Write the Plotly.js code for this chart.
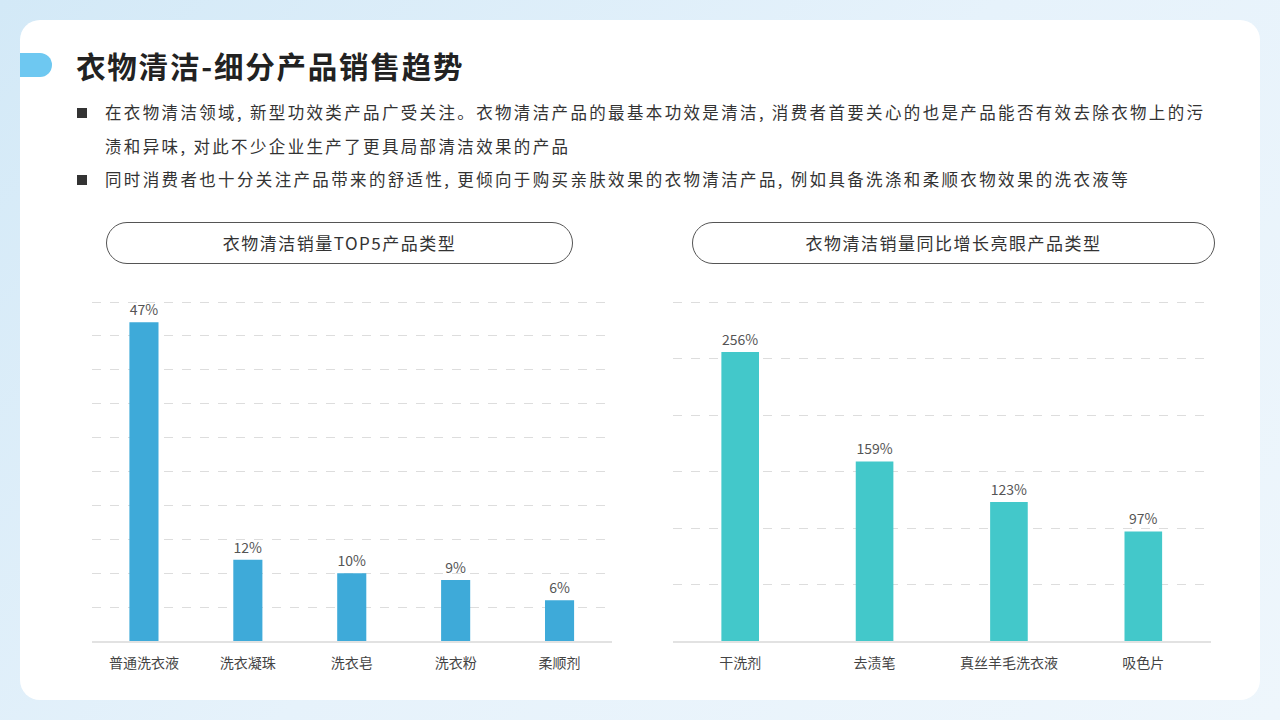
<!DOCTYPE html>
<html>
<head>
<meta charset="utf-8">
<script src="https://cdn.plot.ly/plotly-3.0.1.min.js"></script>
<style>
  html, body { margin: 0; padding: 0; }
  body {
    width: 1280px; height: 720px; overflow: hidden; position: relative;
    background: linear-gradient(135deg, #d3e9f7 0%, #e6f2fb 50%, #eef6fc 100%);
    font-family: "Noto Sans CJK SC", "Noto Sans", sans-serif;
  }
  .card {
    position: absolute; left: 20px; top: 20px; width: 1240px; height: 680px;
    background: #fff; border-radius: 20px;
  }
  .tab {
    position: absolute; left: 20px; top: 53px; width: 32px; height: 24px;
    background: #6ec8f1; border-radius: 0 12px 12px 0;
  }
  .title {
    position: absolute; left: 76px; top: 45px; font-size: 29.5px; font-weight: 700;
    color: #222; letter-spacing: 1.8px; line-height: 40px;
  }
  .bullets {
    position: absolute; left: 77px; top: 96px; font-size: 16.5px; color: #333;
    letter-spacing: 2.35px; white-space: nowrap;
  }
  .bullet { position: relative; padding-left: 28px; line-height: 33.5px; }
  .bullet::before {
    content: ""; position: absolute; left: 0; top: 12px; width: 10px; height: 10px; background: #333;
  }
  .pill {
    position: absolute; top: 222px; height: 40px; border: 1.5px solid #555; border-radius: 22px;
    font-size: 17px; color: #333; text-align: center; line-height: 40px; letter-spacing: 1.5px;
  }
  #chart { position: absolute; left: 0; top: 0; width: 1280px; height: 720px; }
</style>
</head>
<body>
<div class="card"></div>
<div class="tab"></div>
<div class="title">衣物清洁-细分产品销售趋势</div>
<div class="bullets">
  <div class="bullet">在衣物清洁领域, 新型功效类产品广受关注。衣物清洁产品的最基本功效是清洁, 消费者首要关心的也是产品能否有效去除衣物上的污<br>渍和异味, 对此不少企业生产了更具局部清洁效果的产品</div>
  <div class="bullet">同时消费者也十分关注产品带来的舒适性, 更倾向于购买亲肤效果的衣物清洁产品, 例如具备洗涤和柔顺衣物效果的洗衣液等</div>
</div>
<div class="pill" style="left:106px; width:465px;">衣物清洁销量TOP5产品类型</div>
<div class="pill" style="left:692px; width:521px;">衣物清洁销量同比增长亮眼产品类型</div>
<div id="chart"></div>
<script>
const top5Names = ["普通洗衣液", "洗衣凝珠", "洗衣皂", "洗衣粉", "柔顺剂"];
const top5Share = [47, 12, 10, 9, 6];

const growthNames = ["干洗剂", "去渍笔", "真丝羊毛洗衣液", "吸色片"];
const growthRate = [256, 159, 123, 97];

const W = 1280, H = 720;
const yDomain = [(H - 641) / H, (H - 300) / H];

const traces = [
  {
    type: "bar", x: top5Names, y: top5Share, xaxis: "x", yaxis: "y",
    marker: { color: "#3eaad9" },
    text: top5Share.map(v => v + "%"), textposition: "outside",
    textfont: { size: 14, color: "#555" }, cliponaxis: false,
    hoverinfo: "x+y",
  },
  {
    type: "bar", x: growthNames, y: growthRate, xaxis: "x2", yaxis: "y2",
    marker: { color: "#43c8ca" },
    text: growthRate.map(v => v + "%"), textposition: "outside",
    textfont: { size: 14, color: "#555" }, cliponaxis: false,
    hoverinfo: "x+y",
  },
];

const axisX = {
  showline: true, linecolor: "#e2e2e2", linewidth: 2,
  ticks: "outside", ticklen: 8, tickcolor: "rgba(0,0,0,0)",
  tickfont: { size: 14, color: "#444" }, showgrid: false, fixedrange: true,
};
const axisY = {
  showticklabels: false, zeroline: false, showline: false,
  gridcolor: "#dddddd", griddash: "dash", gridwidth: 1, fixedrange: true,
};

const layout = {
  width: W, height: H,
  margin: { l: 0, r: 0, t: 0, b: 0 },
  paper_bgcolor: "rgba(0,0,0,0)", plot_bgcolor: "rgba(0,0,0,0)",
  font: { family: '"Noto Sans CJK SC", "Noto Sans", sans-serif' },
  showlegend: false, bargap: 0.72,
  xaxis: { ...axisX, domain: [92 / W, 611.5 / W], anchor: "y" },
  yaxis: { ...axisY, domain: yDomain, range: [0, 50.3], dtick: 5, anchor: "x" },
  xaxis2: { ...axisX, domain: [673 / W, 1210.5 / W], anchor: "y2" },
  yaxis2: { ...axisY, domain: yDomain, range: [0, 302], dtick: 50, anchor: "x2" },
};

Plotly.newPlot("chart", traces, layout, { displayModeBar: false, staticPlot: true });
</script>
</body>
</html>
